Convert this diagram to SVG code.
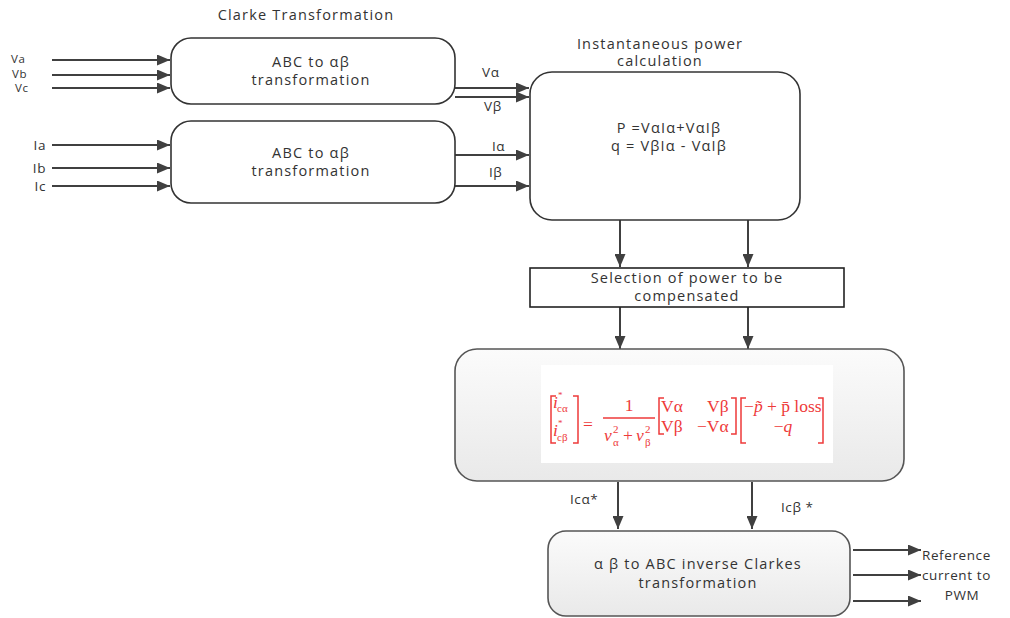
<svg xmlns="http://www.w3.org/2000/svg" width="1010" height="618" viewBox="0 0 1010 618">
  <style>
    .box { fill: #ffffff; stroke: #333333; stroke-width: 1.6; }
    .gbox { fill: url(#greyFill); stroke: #555555; stroke-width: 1.6; }
    .wire { stroke: #404040; stroke-width: 2; fill: none; marker-end: url(#arrow); }
    .lbl { font-family: "Open Sans", "DejaVu Sans", sans-serif; font-size: 14.5px; fill: #333333; letter-spacing: 1.2px; }
    .sm { font-family: "Open Sans", "DejaVu Sans", sans-serif; font-size: 13.5px; fill: #333333; letter-spacing: 0.6px; }
    .xs { font-family: "Open Sans", "DejaVu Sans", sans-serif; font-size: 11.5px; fill: #333333; letter-spacing: 0.7px; }
    .mid { text-anchor: middle; }
    .end { text-anchor: end; }
    .eq { font-family: "Liberation Serif", "DejaVu Serif", serif; fill: #ee3a3a; font-size: 17.5px; }
    .eqs { font-family: "Liberation Serif", "DejaVu Serif", serif; fill: #ee3a3a; font-size: 11px; }
    .star { font-family: "Liberation Serif", "DejaVu Serif", serif; fill: #ee3a3a; font-size: 9px; }
    .it { font-style: italic; }
    .brk { stroke: #ee3a3a; stroke-width: 1.5; fill: none; }
  </style>
  <defs>
    <marker id="arrow" markerUnits="userSpaceOnUse" markerWidth="14" markerHeight="11" refX="13" refY="5.5" orient="auto">
      <path d="M0,0 L13,5.5 L0,11 z" fill="#404040"/>
    </marker>
    <linearGradient id="greyFill" x1="0" y1="0" x2="0" y2="1">
      <stop offset="0" stop-color="#fbfbfb"/>
      <stop offset="1" stop-color="#e9e9e9"/>
    </linearGradient>
  </defs>

  <rect width="1010" height="618" fill="#ffffff"/>

  <!-- captions above blocks -->
  <text class="lbl mid" x="306" y="20">Clarke Transformation</text>
  <text class="lbl mid" x="660" y="49">Instantaneous power</text>
  <text class="lbl mid" x="660" y="66">calculation</text>

  <!-- connectors -->
  <g id="connectors">
    <path class="wire" d="M52,60 H170"/>
    <path class="wire" d="M52,75 H170"/>
    <path class="wire" d="M52,88 H170"/>
    <path class="wire" d="M52,145 H170"/>
    <path class="wire" d="M52,168 H170"/>
    <path class="wire" d="M52,186 H170"/>
    <path class="wire" d="M455,88 H529"/>
    <path class="wire" d="M455,97 H529"/>
    <path class="wire" d="M455,155 H529"/>
    <path class="wire" d="M455,186 H529"/>
    <path class="wire" d="M620,220 V267"/>
    <path class="wire" d="M748,220 V267"/>
    <path class="wire" d="M620,307 V349"/>
    <path class="wire" d="M748,307 V349"/>
    <path class="wire" d="M618,482 V529"/>
    <path class="wire" d="M752,482 V529"/>
    <path class="wire" d="M853,550 H921"/>
    <path class="wire" d="M853,575 H921"/>
    <path class="wire" d="M853,601 H921"/>
  </g>

  <!-- connector labels -->
  <g id="connector-labels">
    <text class="xs" x="11" y="63">Va</text>
    <text class="xs" x="12" y="78">Vb</text>
    <text class="xs" x="15" y="92">Vc</text>
    <text class="sm end" x="46" y="150">Ia</text>
    <text class="sm end" x="46" y="173">Ib</text>
    <text class="sm end" x="46" y="191">Ic</text>
    <text class="sm" x="482" y="77">Vα</text>
    <text class="sm" x="484" y="111">Vβ</text>
    <text class="sm" x="492" y="151">Iα</text>
    <text class="sm" x="489" y="177">Iβ</text>
    <text class="sm" x="570" y="504">Icα*</text>
    <text class="sm" x="781" y="512">Icβ *</text>
    <text class="sm" x="922" y="560">Reference</text>
    <text class="sm" x="922" y="580">current to</text>
    <text class="sm mid" x="962" y="600">PWM</text>
  </g>

  <!-- Clarke transform of the voltages -->
  <g id="clarke-v">
    <rect class="box" x="171" y="38" width="284" height="66" rx="20"/>
    <text class="lbl mid" x="311" y="67">ABC to αβ</text>
    <text class="lbl mid" x="311" y="85">transformation</text>
  </g>

  <!-- Clarke transform of the currents -->
  <g id="clarke-i">
    <rect class="box" x="171" y="121" width="284" height="82" rx="20"/>
    <text class="lbl mid" x="311" y="158">ABC to αβ</text>
    <text class="lbl mid" x="311" y="176">transformation</text>
  </g>

  <!-- instantaneous power calculation -->
  <g id="power-calc">
    <rect class="box" x="530" y="72" width="270" height="148" rx="22"/>
    <text class="lbl mid" x="669" y="133">P =VαIα+VαIβ</text>
    <text class="lbl mid" x="669" y="151">q = VβIα - VαIβ</text>
  </g>

  <!-- selection of compensated power -->
  <g id="selection">
    <rect x="530" y="268" width="314" height="39" fill="#ffffff" stroke="#222222" stroke-width="1.6"/>
    <text class="lbl mid" x="687" y="283">Selection of power to be</text>
    <text class="lbl mid" x="687" y="301">compensated</text>
  </g>

  <!-- reference current computation -->
  <g id="reference-calc">
    <rect class="gbox" x="455" y="349" width="449" height="132" rx="22"/>
    <rect x="541" y="365" width="292" height="98" fill="#ffffff"/>
    <!-- current vector -->
    <path class="brk" d="M556,396 H551 V443 H556"/>
    <path class="brk" d="M573,396 H578 V443 H573"/>
    <text class="eq it" x="553" y="408">i</text>
    <text class="star" x="558" y="398">*</text>
    <text class="eqs" x="557" y="412">cα</text>
    <text class="eq it" x="553" y="436">i</text>
    <text class="star" x="558" y="426">*</text>
    <text class="eqs" x="557" y="441">cβ</text>
    <text class="eq" x="583" y="430">=</text>
    <!-- scalar factor -->
    <text class="eq mid" x="629" y="411">1</text>
    <path class="brk" d="M603,418 H655" stroke-width="1.1"/>
    <text class="eq it" x="604" y="441">v</text>
    <text class="eqs" x="613" y="433">2</text>
    <text class="eqs" x="613" y="446">α</text>
    <text class="eq" x="623" y="441">+</text>
    <text class="eq it" x="636" y="441">v</text>
    <text class="eqs" x="645" y="433">2</text>
    <text class="eqs" x="645" y="446">β</text>
    <!-- voltage matrix -->
    <path class="brk" d="M664,398 H659 V434 H664"/>
    <path class="brk" d="M731,398 H736 V434 H731"/>
    <text class="eq" x="661" y="412">Vα</text>
    <text class="eq" x="707" y="412">Vβ</text>
    <text class="eq" x="661" y="432">Vβ</text>
    <text class="eq" x="697" y="432">−Vα</text>
    <!-- power vector -->
    <path class="brk" d="M746,398 H741 V443 H746"/>
    <path class="brk" d="M818,398 H823 V443 H818"/>
    <text class="eq" x="744" y="412" font-size="16.5">−<tspan class="it">p̃</tspan> + p̄ loss</text>
    <text class="eq mid" x="783" y="432">−<tspan class="it">q</tspan></text>
  </g>

  <!-- inverse Clarke transform -->
  <g id="inverse-clarke">
    <rect class="gbox" x="548" y="531" width="302" height="85" rx="18"/>
    <text class="lbl mid" x="698" y="569">α β to ABC inverse Clarkes</text>
    <text class="lbl mid" x="698" y="588">transformation</text>
  </g>
</svg>
